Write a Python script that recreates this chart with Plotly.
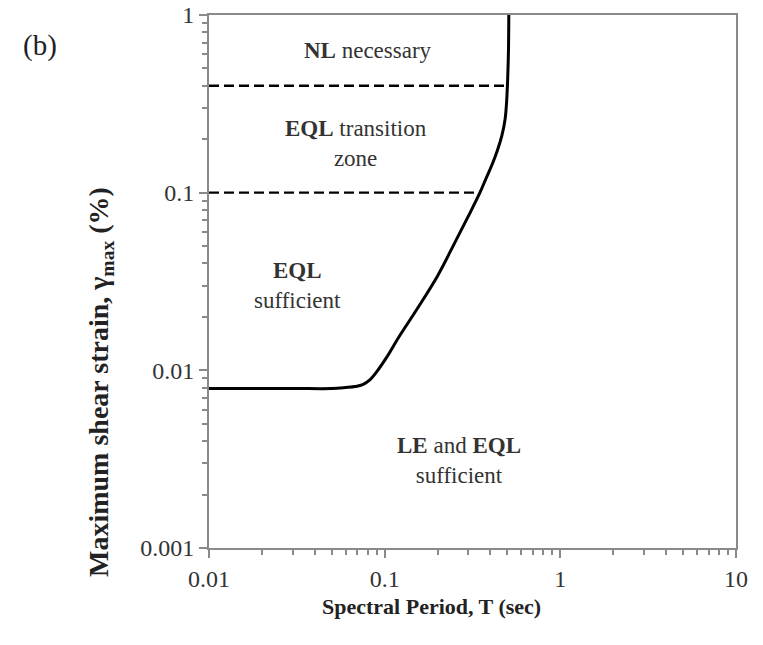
import numpy as np
import plotly.graph_objects as go

# Boundary curve: spectral period T (sec) vs maximum shear strain (%)
period = [0.01, 0.03, 0.05, 0.06, 0.068, 0.075, 0.082, 0.09, 0.103, 0.12, 0.15,
          0.2, 0.25, 0.3, 0.348, 0.38, 0.41, 0.44, 0.465, 0.485, 0.495, 0.502,
          0.507, 0.509]
strain = [0.0079, 0.0079, 0.0079, 0.0080, 0.0081, 0.0083, 0.0088, 0.0098, 0.0119,
          0.0153, 0.0215, 0.034, 0.052, 0.074, 0.0996, 0.122, 0.145, 0.175, 0.21,
          0.26, 0.33, 0.45, 0.65, 1.0]

# Horizontal strain thresholds (%) and the period where each meets the curve
threshold_strain = [0.4, 0.1]
threshold_end = [0.49, 0.348]

# Region labels: (text, T, strain)
region_labels = [
    ("<b>NL</b> necessary", 0.0804, 0.63),
    ("<b>EQL</b> transition<br>zone", 0.0687, 0.19),
    ("<b>EQL</b><br>sufficient", 0.0317, 0.030),
    ("<b>LE</b> and <b>EQL</b><br>sufficient", 0.265, 0.0031),
]

x_ticks = [0.01, 0.1, 1, 10]
x_ticktext = ["0.01", "0.1", "1", "10"]
y_ticks = [0.001, 0.01, 0.1, 1]
y_ticktext = ["0.001", "0.01", "0.1", "1"]

FONT = "Liberation Serif"
AXIS_GREY = "#8a8a8a"

# Plot-area geometry in pixels
W, H = 763, 645
ML, MR, MT, MB = 209, 27, 15, 97
PW, PH = W - ML - MR, H - MT - MB


def px_to_paper(px, py):
    return (px - ML) / PW, 1 - (py - MT) / PH


fig = go.Figure()

for ys, xe in zip(threshold_strain, threshold_end):
    fig.add_trace(go.Scatter(
        x=[0.01, xe], y=[ys, ys], mode="lines",
        line=dict(color="black", width=2.4, dash="10px,5px"),
        showlegend=False, hoverinfo="skip"))

fig.add_trace(go.Scatter(
    x=period, y=strain, mode="lines",
    line=dict(color="black", width=3, shape="spline", smoothing=1.0),
    showlegend=False))

for text, tx, ty in region_labels:
    fig.add_annotation(
        x=np.log10(tx), y=np.log10(ty), xref="x", yref="y", text=text,
        showarrow=False, align="center",
        font=dict(family=FONT, size=23, color="#333333"))

axis_common = dict(
    type="log", showgrid=False, zeroline=False, automargin=False,
    showline=True, linecolor=AXIS_GREY, linewidth=2, mirror=True,
    ticks="outside", ticklen=8, tickwidth=1.5, tickcolor=AXIS_GREY,
    minor=dict(ticks="outside", ticklen=5, tickwidth=1.5, dtick="D1",
               tickcolor=AXIS_GREY, showgrid=False),
    tickfont=dict(family=FONT, size=24, color="#333333"),
)

fig.update_xaxes(**axis_common, range=[-2, 1],
                 tickvals=x_ticks, ticktext=x_ticktext)
fig.update_yaxes(**axis_common, range=[-3, 0],
                 tickvals=y_ticks, ticktext=y_ticktext)

# Axis titles
tx, ty = px_to_paper(431, 606)
fig.add_annotation(
    xref="paper", yref="paper", x=tx, y=ty, showarrow=False,
    xanchor="center", yanchor="middle",
    text="<b>Spectral Period, T (sec)</b>",
    font=dict(family=FONT, size=22, color="#222222"))

tx, ty = px_to_paper(100, 382)
fig.add_annotation(
    xref="paper", yref="paper", x=tx, y=ty, showarrow=False, textangle=-90,
    xanchor="center", yanchor="middle",
    text="<b>Maximum shear strain, γ<sub>max</sub> (%)</b>",
    font=dict(family=FONT, size=28, color="#222222"))

# Panel tag in the top-left corner
tx, ty = px_to_paper(40, 45)
fig.add_annotation(
    xref="paper", yref="paper", x=tx, y=ty, showarrow=False,
    xanchor="center", yanchor="middle", text="(b)",
    font=dict(family=FONT, size=29, color="#222222"))

fig.update_layout(
    width=W, height=H,
    margin=dict(l=ML, r=MR, t=MT, b=MB, autoexpand=False),
    paper_bgcolor="white", plot_bgcolor="white",
)

fig.write_html("out.html")
